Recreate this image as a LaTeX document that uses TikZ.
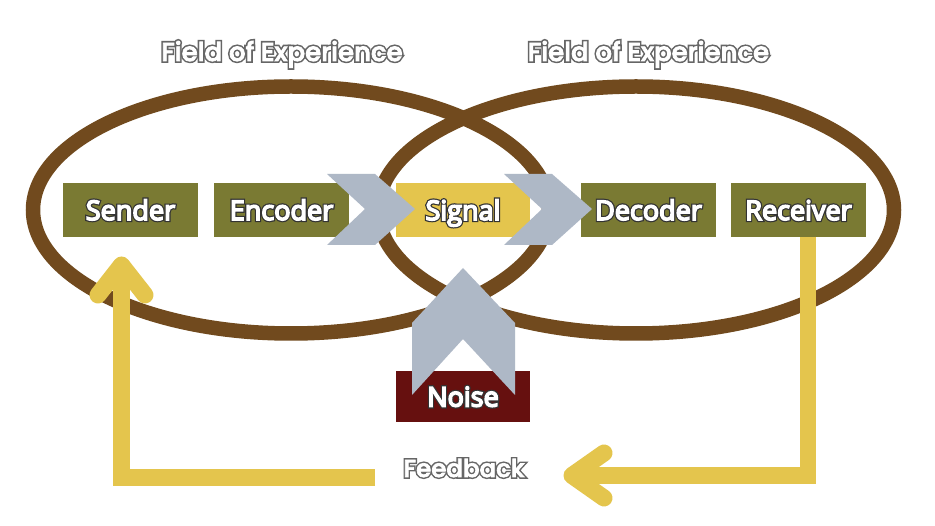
\documentclass[tikz,border=0pt]{standalone}
\usepackage{fontspec}
\newfontfamily\labelfont{Open Sans}[FakeBold=6]
\newfontfamily\labelout{Open Sans}[FakeBold=15]
\newfontfamily\popout{Poppins}[UprightFont=* Medium,UprightFeatures={FakeBold=15}]
\newfontfamily\popin{Poppins}[UprightFont=* Medium,UprightFeatures={FakeBold=3}]
\definecolor{olivebox}{HTML}{7A7A33}
\definecolor{brownring}{HTML}{714A1E}
\definecolor{yellowc}{HTML}{E4C54D}
\definecolor{chevronc}{HTML}{AEB8C6}
\definecolor{noisec}{HTML}{66100F}
\definecolor{darkedge}{HTML}{333333}
\definecolor{greyedge}{HTML}{666666}
\newcommand{\lbltext}[1]{\rlap{\labelout\textcolor{darkedge}{#1}}\labelfont\textcolor{white}{#1}}
\newcommand{\ttltext}[1]{\rlap{\popout\textcolor{greyedge}{#1}}\popin\textcolor{white}{#1}}
\tikzset{
  x=1pt,y=-1pt,
  ring/.style={draw=brownring,line width=14.5pt},
  box/.style={minimum width=135pt,minimum height=54pt,inner sep=0pt,outer sep=0pt,fill=#1},
  chev/.style={fill=chevronc},
  shaft/.style={draw=yellowc,line width=16.5pt,miter limit=10},
  headline/.style={draw=yellowc,line width=17pt,line cap=round,line join=round},
  label/.style={inner sep=0pt,anchor=base,yshift=-10pt,font=\fontsize{27}{30}\selectfont},
  title/.style={inner sep=0pt,anchor=base,font=\fontsize{26}{30}\selectfont},
}
\begin{document}
\begin{tikzpicture}
\useasboundingbox (0,0) rectangle (935,526);
\fill[white] (0,0) rectangle (935,526);
\draw[ring] (291,210) ellipse [x radius=258,y radius=123.5];
\draw[ring] (636,210) ellipse [x radius=258,y radius=123.5];
\node[box=olivebox] (sender) at (130.5,210) {};
\node[box=olivebox] (encoder) at (281.5,210) {};
\node[box=yellowc,minimum width=134pt] (signal) at (463,210) {};
\node[box=olivebox] (decoder) at (648.5,210) {};
\node[box=olivebox] (receiver) at (798.5,210) {};
\node[box=noisec,minimum width=134pt,minimum height=51pt] (noise) at (463,396.5) {};
% feedback arrows
\coordinate (rs) at ([xshift=9.5pt]receiver.south);
\coordinate (rc) at (rs |- 0,475.5);
\coordinate (rt) at (572,475.5);
\coordinate (lstart) at (375,477.5);
\coordinate (lc) at (121.5,477.5);
\coordinate (lt) at (121.5,265);
\coordinate (rh1) at (604,453);
\coordinate (rh2) at (604,498);
\coordinate (lh1) at (98,295);
\coordinate (lh2) at (145,295);
\draw[shaft] (rs) -- (rc) -- (rt);
\draw[headline] (rh1) -- (rt) -- (rh2);
\draw[shaft] (lstart) -- (lc) -- (lt);
\draw[headline] (lh1) -- (lt) -- (lh2);
% chevrons
\fill[chev] (327,174) -- (375,174) -- (415,209) -- (375,245) -- (327,245) -- (365,209) -- cycle;
\fill[chev] (504,174) -- (552,174) -- (592,209) -- (552,245) -- (504,245) -- (542,209) -- cycle;
\fill[chev] (463,268) -- (515,323) -- (515,395) -- (463,339) -- (412,395) -- (412,323) -- cycle;
% labels
\node[label] (t1) at (sender) {\lbltext{Sender}};
\node[label] (t2) at (encoder) {\lbltext{Encoder}};
\node[label] (t3) at (signal) {\lbltext{Signal}};
\node[label] (t4) at (decoder) {\lbltext{Decoder}};
\node[label] (t5) at (receiver) {\lbltext{Receiver}};
\node[label] (t6) at (noise) {\lbltext{Noise}};
\node[title] (f1) at (282,61) {\ttltext{Field of Experience}};
\node[title] (f2) at (648.5,61) {\ttltext{Field of Experience}};
\node[title,font=\fontsize{24.5}{30}\selectfont] (fb) at (464,477) {\ttltext{Feedback}};
\end{tikzpicture}
\end{document}
